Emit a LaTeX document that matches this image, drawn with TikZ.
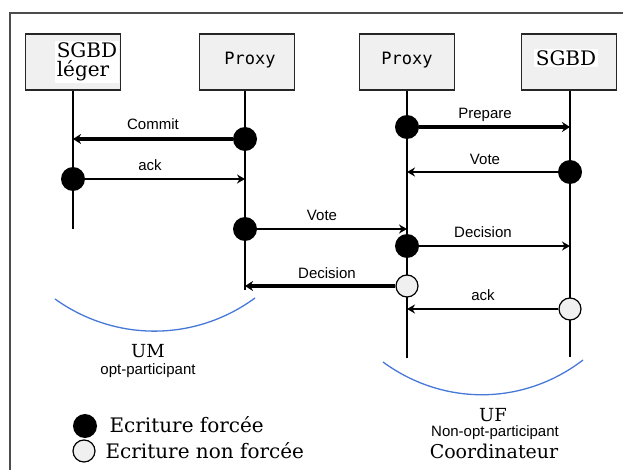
\documentclass[tikz,border=0pt]{standalone}
\usepackage{fontspec}
\setmainfont{DejaVu Serif}
\newfontfamily\labelfont{Liberation Sans}
\newfontfamily\boxmono{DejaVu Sans Mono}
\usetikzlibrary{arrows.meta}

\begin{document}
\begin{tikzpicture}[x=1pt,y=-1pt,
  actor/.style={draw=black!85, line width=1.6pt, fill=black!6,
    minimum width=95pt, minimum height=56pt, inner sep=0pt},
  serifname/.style={fill=white, inner sep=1.5pt, align=left,
    font=\fontsize{20}{19}\selectfont},
  proxyname/.style={font=\boxmono\fontsize{17}{17}\selectfont},
  lifeline/.style={line width=1.6pt},
  forced/.style={circle, fill=black, minimum size=24pt, inner sep=0pt},
  unforced/.style={circle, draw=black, line width=1.2pt, fill=black!6,
    minimum size=22pt, inner sep=0pt},
  msg/.style={line width=2.3pt, -{Stealth[length=8pt,width=9pt]}},
  heavymsg/.style={line width=3.6pt, -{Stealth[length=8pt,width=10pt]}},
  msglabel/.style={font=\labelfont\fontsize{15}{15}\selectfont},
  groupline/.style={draw={rgb,255:red,70;green,120;blue,215}, line width=1.3pt},
  groupname/.style={font=\fontsize{18}{18}\selectfont},
  rolename/.style={font=\labelfont\fontsize{15}{15}\selectfont},
  legendtext/.style={anchor=west, font=\fontsize{20}{20}\selectfont}
]
\useasboundingbox (0,0) rectangle (623,470);
\clip (0,0) rectangle (623,470);

% outer frame (runs past the page on the right and bottom)
\draw[line width=1.8pt, draw=black!70] (10,13) rectangle (660,500);

% participants
\node[actor] (sgbdL) at (73,62) {};
\node[serifname] at (87,62) {SGBD\\léger};
\node[actor] (proxyL) at (247,62) {};
\node[proxyname] at (250,60) {Proxy};
\node[actor] (proxyR) at (407,62) {};
\node[proxyname] at (407,60) {Proxy};
\node[actor] (sgbdR) at (569,62) {};
\node[serifname] at (566,58) {SGBD};

% lifeline ends
\coordinate (sgbdLend) at (73,229);
\coordinate (proxyLend) at (245,290);
\coordinate (proxyRend) at (407,358);
\coordinate (sgbdRend) at (570,357);

\draw[lifeline] (sgbdL.south -| sgbdLend) -- (sgbdLend);
\draw[lifeline] (proxyL.south -| proxyLend) -- (proxyLend);
\draw[lifeline] (proxyR.south -| proxyRend) -- (proxyRend);
\draw[lifeline] (sgbdR.south -| sgbdRend) -- (sgbdRend);

% arrival points on the lifelines
\coordinate (commitIn) at (73,139);
\coordinate (ackLIn) at (245,179);
\coordinate (voteLIn) at (407,229);
\coordinate (decLIn) at (245,286);
\coordinate (prepIn) at (570,127);
\coordinate (voteRIn) at (407,172);
\coordinate (decRIn) at (570,246);
\coordinate (ackRIn) at (407,309);

% log writes
\node[forced] (commitOut) at (245,139) {};
\node[forced] (ackLOut) at (73,179) {};
\node[forced] (voteLOut) at (245,229) {};
\node[unforced] (decLOut) at (407,286) {};
\node[forced] (prepOut) at (407,127) {};
\node[forced] (voteROut) at (570,172) {};
\node[forced] (decROut) at (407,246) {};
\node[unforced] (ackROut) at (570,309) {};

% messages
\draw[heavymsg] (commitOut) -- (commitIn);
\draw[msg] (ackLOut) -- (ackLIn);
\draw[msg] (voteLOut) -- (voteLIn);
\draw[heavymsg] (decLOut) -- (decLIn);
\draw[heavymsg] (prepOut) -- (prepIn);
\draw[msg] (voteROut) -- (voteRIn);
\draw[msg] (decROut) -- (decRIn);
\draw[msg] (ackROut) -- (ackRIn);

\node[msglabel] (lCommit) at (153,124) {Commit};
\node[msglabel] (lAckL) at (150,165) {ack};
\node[msglabel] (lVoteL) at (322,215) {Vote};
\node[msglabel] (lDecL) at (327,273) {Decision};
\node[msglabel] (lPrep) at (485,115) {Prepare};
\node[msglabel] (lVoteR) at (485,159) {Vote};
\node[msglabel] (lDecR) at (483,232) {Decision};
\node[msglabel] (lAckR) at (483,295) {ack};

% groups
\coordinate (umA) at (55,299);
\coordinate (umB) at (255,298);
\draw[groupline] (umA) .. controls (115,342) and (195,342) .. (umB);
\node[groupname] (um) at (148,351) {UM};
\node[rolename] (umRole) at (148,371) {opt-participant};

\coordinate (ufA) at (383,362);
\coordinate (ufB) at (583,360);
\draw[groupline] (ufA) .. controls (443,406) and (523,406) .. (ufB);
\node[groupname] (uf) at (493,415) {UF};
\node[rolename] (ufRole) at (495,433) {Non-opt-participant};
\node[groupname, font=\fontsize{19}{19}\selectfont] (ufCoord) at (494,451) {Coordinateur};

% legend
\node[forced] (keyForced) at (85,426) {};
\node[legendtext] at (106,425) {Ecriture forcée};
\node[unforced] (keyUnforced) at (84,451) {};
\node[legendtext] at (102,451) {Ecriture non forcée};
\end{tikzpicture}
\end{document}
